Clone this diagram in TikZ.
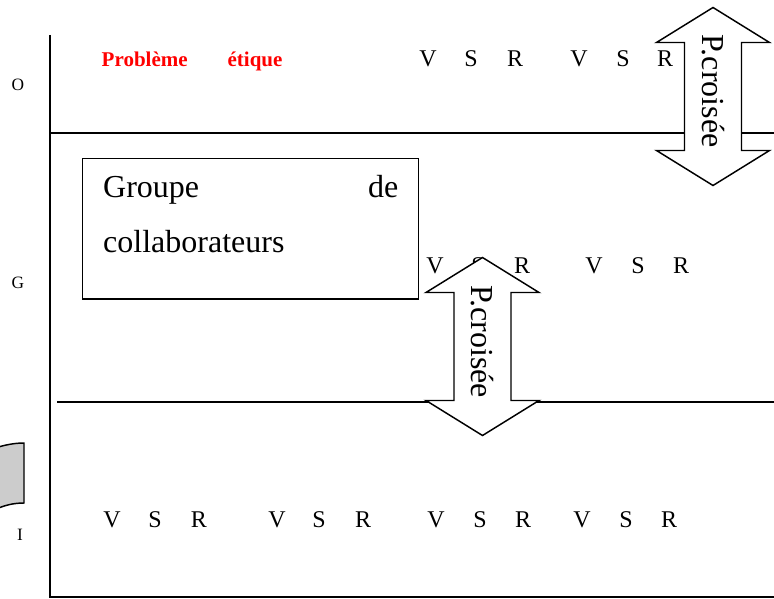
\documentclass[tikz,border=0pt]{standalone}
\usepackage{fontspec}
\setmainfont{Liberation Serif}
\tikzset{
  diagram/.style={x=0.75pt, y=-0.75pt, line width=1.1pt},
  rowlabel/.style={font=\fontsize{13}{15}\selectfont, inner sep=0pt},
  vsr/.style={font=\fontsize{18}{20}\selectfont, inner sep=0pt, anchor=base},
  redtitle/.style={font=\bfseries\fontsize{15.75}{18}\selectfont, text=red,
    inner sep=0pt, anchor=base west},
  pbox/.style={draw, anchor=north west, align=left, text width=221.25pt,
    inner xsep=15.375pt, inner ysep=12.75pt, text depth=63pt,
    font=\fontsize{24}{41}\selectfont},
  parrow/.style={draw, fill=white, line join=miter},
  ptext/.style={font=\fontsize{24}{26}\selectfont, inner sep=0pt, rotate=-90},
  greyflag/.style={draw, fill=black!20},
}
\begin{document}
\begin{tikzpicture}[diagram]
  \useasboundingbox (0,0) rectangle (774,599);
  % axes and the three bands
  \draw (50,35) -- (50,597) -- (774,597);
  \draw (50,133) -- (774,133);
  \draw (57,402) -- (774,402);
  \node[rowlabel] (lblO) at (18,85) {O};
  \node[rowlabel] (lblG) at (18,283) {G};
  \node[rowlabel] (lblI) at (20,535) {I};
  % grey flag, cut by the left edge
  \draw[greyflag] (-8,449) .. controls (4,445) and (14,443) .. (24,443)
    -- (24,503) .. controls (14,503) and (4,505) .. (-8,511);
  % band O
  \node[redtitle] (prob) at (101,67) {Problème\hskip 30pt étique};
  \foreach \x/\ltr [count=\i] in {428/V,471/S,515/R,579/V,623/S,665/R}
    \node[vsr] (top\i) at (\x,67) {\ltr};
  % band G
  \node[pbox] (grp) at (82,158) {Groupe\hskip 0pt plus 1filll de\\collaborateurs};
  \foreach \x/\ltr [count=\i] in {435/V,478/S,522/R,594/V,638/S,681/R}
    \node[vsr] (mid\i) at (\x,273) {\ltr};
  % band I
  \foreach \x/\ltr [count=\i] in {112/V,155/S,199/R,277/V,319/S,363/R,
      436/V,480/S,523/R,582/V,626/S,669/R}
    \node[vsr] (bot\i) at (\x,527) {\ltr};
  % P.croisee, top right
  \begin{scope}[shift={(713,96.5)}]
    \draw[parrow] (0,-89) -- (56.5,-54) -- (28.5,-54) -- (28.5,54) -- (56.5,54)
      -- (0,89) -- (-56.5,54) -- (-28.5,54) -- (-28.5,-54) -- (-56.5,-54) -- cycle;
    \node[ptext] (pcTop) at (0,-5.5) {P.croisée};
  \end{scope}
  % P.croisee, between G and I
  \begin{scope}[shift={(482.5,346.5)}]
    \draw[parrow] (0,-89) -- (56.5,-54) -- (28.5,-54) -- (28.5,54) -- (56.5,54)
      -- (0,89) -- (-56.5,54) -- (-28.5,54) -- (-28.5,-54) -- (-56.5,-54) -- cycle;
    \node[ptext] (pcMid) at (0,-5) {P.croisée};
  \end{scope}
\end{tikzpicture}
\end{document}
